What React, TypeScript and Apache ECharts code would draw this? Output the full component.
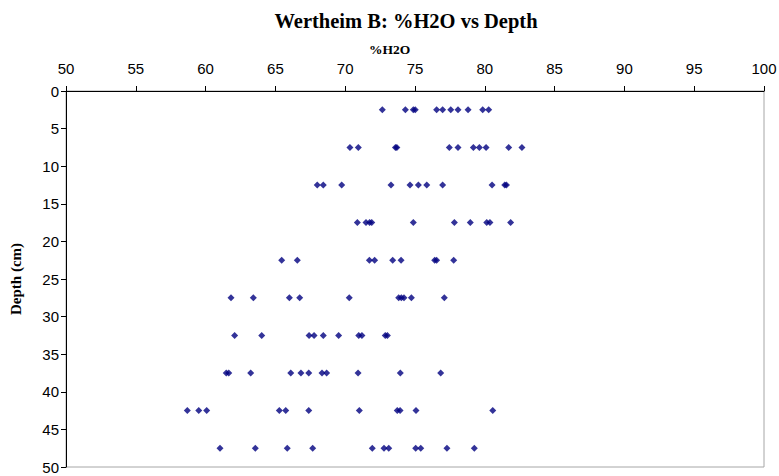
import React, { useEffect, useRef } from "react";
import * as echarts from "echarts";

// Sampling depths (cm) and the %H2O replicates measured at each depth
const depths = [2.5, 7.5, 12.5, 17.5, 22.5, 27.5, 32.5, 37.5, 42.5, 47.5];

const h2o_2_5 = [72.66, 74.31, 74.88, 75.02, 76.55, 76.98, 77.56, 78.08, 78.8, 79.85, 80.28];
const h2o_7_5 = [70.34, 70.94, 73.6, 73.7, 77.46, 78.08, 79.18, 79.61, 80.09, 81.71, 82.66];
const h2o_12_5 = [68.0, 68.43, 69.75, 73.28, 74.64, 75.24, 75.84, 76.98, 80.52, 81.43, 81.55];
const h2o_17_5 = [70.87, 71.49, 71.75, 71.9, 74.88, 77.82, 78.96, 80.14, 80.37, 81.85];
const h2o_22_5 = [65.45, 66.57, 71.73, 72.11, 73.4, 74.0, 76.41, 76.55, 77.77];
const h2o_27_5 = [61.82, 63.42, 66.0, 66.74, 70.29, 73.83, 74.02, 74.21, 74.74, 77.1];
const h2o_32_5 = [62.08, 64.02, 67.41, 67.77, 68.43, 69.53, 70.97, 71.2, 72.87, 73.02];
const h2o_37_5 = [61.48, 61.66, 63.23, 66.1, 66.83, 67.39, 68.34, 68.67, 70.92, 73.95, 76.84];
const h2o_42_5 = [58.69, 59.51, 60.08, 65.28, 65.74, 67.39, 71.01, 73.73, 73.93, 75.07, 80.57];
const h2o_47_5 = [61.03, 63.56, 65.85, 67.67, 71.94, 72.78, 73.12, 75.05, 75.41, 77.29, 79.25];

const h2oByDepth = [h2o_2_5, h2o_7_5, h2o_12_5, h2o_17_5, h2o_22_5, h2o_27_5, h2o_32_5, h2o_37_5, h2o_42_5, h2o_47_5];

const xTicks = { min: 50, max: 100, interval: 5 };
const yTicks = { min: 0, max: 50, interval: 5 };

const SERIF = "'Liberation Serif', 'Times New Roman', serif";
const SANS = "'Liberation Sans', Arial, sans-serif";

export default function App() {
  const ref = useRef<HTMLDivElement>(null);

  useEffect(() => {
    if (!ref.current) return;
    const chart = echarts.init(ref.current, undefined, { renderer: "svg" });

    const points: [number, number][] = [];
    depths.forEach((d, i) => {
      h2oByDepth[i].forEach((v) => points.push([v, d]));
    });

    chart.setOption({
      animation: false,
      backgroundColor: "#ffffff",
      title: {
        text: "Wertheim B: %H2O vs Depth",
        left: 401,
        top: 5,
        textAlign: "center",
        textStyle: {
          fontFamily: SERIF,
          fontWeight: "bold",
          fontSize: 20.5,
          color: "#000000",
        },
      },
      grid: {
        left: 66,
        top: 91,
        right: 15,
        bottom: 9,
        outerBoundsMode: "none",
        containLabel: false,
        show: true,
        borderColor: "#a6a6a6",
        borderWidth: 1,
        backgroundColor: "transparent",
      },
      xAxis: {
        type: "value",
        position: "top",
        min: xTicks.min,
        max: xTicks.max,
        interval: xTicks.interval,
        name: "%H2O",
        nameLocation: "middle",
        nameGap: 34,
        nameTextStyle: {
          fontFamily: SERIF,
          fontWeight: "bold",
          fontSize: 13.5,
          color: "#000000",
          padding: [0, 51, 0, 0],
        },
        axisLine: { show: true, lineStyle: { color: "#000000", width: 1 } },
        axisTick: { show: true, length: 5, lineStyle: { color: "#000000" } },
        axisLabel: {
          fontFamily: SANS,
          fontSize: 15,
          color: "#000000",
          margin: 15,
        },
        splitLine: { show: false },
      },
      yAxis: {
        type: "value",
        inverse: true,
        min: yTicks.min,
        max: yTicks.max,
        interval: yTicks.interval,
        name: "Depth (cm)",
        nameLocation: "middle",
        nameGap: 43,
        nameTextStyle: {
          fontFamily: SERIF,
          fontWeight: "bold",
          fontSize: 15,
          color: "#000000",
        },
        axisLine: { show: true, lineStyle: { color: "#000000", width: 1 } },
        axisTick: { show: true, length: 5, lineStyle: { color: "#000000" } },
        axisLabel: {
          fontFamily: SANS,
          fontSize: 15,
          color: "#000000",
          margin: 7,
        },
        splitLine: { show: false },
      },
      series: [
        {
          type: "scatter",
          name: "%H2O",
          data: points,
          symbol: "diamond",
          symbolSize: 7,
          itemStyle: { color: "#000080" },
        },
      ],
    });

    return () => chart.dispose();
  }, []);

  return <div ref={ref} style={{ width: 779, height: 476, position: "absolute", left: 0, top: 0 }} />;
}
